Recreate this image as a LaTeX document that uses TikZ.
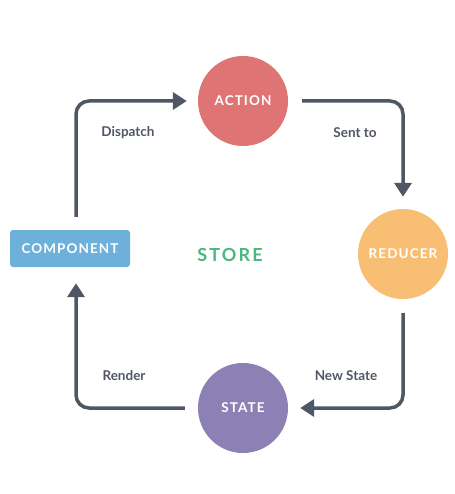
\documentclass[tikz,border=0pt]{standalone}
\usepackage{fontspec}
\setmainfont{Lato}
\newfontfamily\capsfont[LetterSpace=8]{Lato}
\newfontfamily\storefont[LetterSpace=12]{Lato}
\usepackage{tikz}
\usetikzlibrary{arrows.meta}

\definecolor{actioncol}{HTML}{DE7473}
\definecolor{reducercol}{HTML}{F8BE74}
\definecolor{statecol}{HTML}{8D80B4}
\definecolor{compcol}{HTML}{6DB0DA}
\definecolor{storecol}{HTML}{4DB57F}
\definecolor{linecol}{HTML}{4F5664}

\tikzset{
  stage/.style={circle, draw=none, minimum size=90pt, inner sep=0pt, text=white, font=\capsfont\bfseries\fontsize{13.5}{13.5}\selectfont},
  flow/.style={line width=3.5pt, draw=linecol, rounded corners=13pt, -{Triangle[length=14pt,width=17pt]}},
  lbl/.style={text=linecol, font=\bfseries\fontsize{13.5}{13.5}\selectfont}
}

\begin{document}
\begin{tikzpicture}[x=1pt, y=-1pt]
\useasboundingbox (0,0) rectangle (454,494);
\node[stage, fill=actioncol] (action) at (243,101) {ACTION};
\node[stage, fill=reducercol] (reducer) at (403,254) {REDUCER};
\node[stage, fill=statecol] (state) at (243,408) {STATE};
\node[fill=compcol, rounded corners=3pt, minimum width=120pt, minimum height=37pt, text=white, font=\capsfont\bfseries\fontsize{13.5}{13.5}\selectfont] (comp) at (70,248.5) {COMPONENT};
\node[text=storecol, font=\storefont\bfseries\fontsize{18}{18}\selectfont] (store) at (230,255) {STORE};
\draw[flow, shorten <=13pt, shorten >=11pt] ([xshift=6pt]comp.north) |- (action.west);
\draw[flow, shorten <=14pt, shorten >=12pt] (action.east) -| (reducer.north);
\draw[flow, shorten <=14pt, shorten >=12pt] (reducer.south) |- (state.east);
\draw[flow, shorten <=13pt, shorten >=16pt] (state.west) -| ([xshift=6pt]comp.south);
\node[lbl] (dispatch) at (128,133) {Dispatch};
\node[lbl] (sentto) at (355,133) {Sent to};
\node[lbl] (render) at (124,376) {Render};
\node[lbl] (newstate) at (346,376) {New State};
\end{tikzpicture}
\end{document}
